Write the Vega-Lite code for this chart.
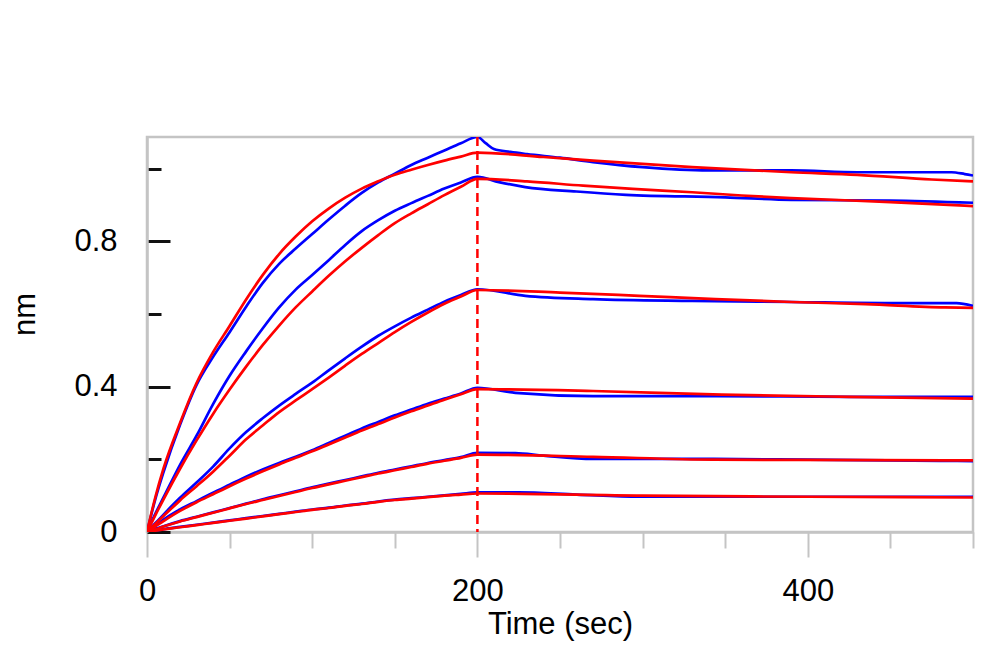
{
  "$schema": "https://vega.github.io/schema/vega-lite/v6.json",
  "width": 826,
  "height": 395,
  "autosize": {"type": "none"},
  "padding": {"left": 147, "top": 137, "right": 27, "bottom": 138},
  "background": "white",
  "config": {
    "view": {"stroke": "#c4c4c4", "strokeWidth": 2.5},
    "font": "Liberation Sans"
  },
  "datasets": {
    "measured": [
      {"c":1,"t":0,"v":0},{"c":1,"t":5,"v":0.09},{"c":1,"t":10,"v":0.165},{"c":1,"t":20,"v":0.295},{"c":1,"t":30,"v":0.405},{"c":1,"t":40,"v":0.482},{"c":1,"t":50,"v":0.55},{"c":1,"t":60,"v":0.62},{"c":1,"t":70,"v":0.685},{"c":1,"t":80,"v":0.738},{"c":1,"t":90,"v":0.78},{"c":1,"t":100,"v":0.82},{"c":1,"t":110,"v":0.86},{"c":1,"t":120,"v":0.898},{"c":1,"t":130,"v":0.933},{"c":1,"t":140,"v":0.962},{"c":1,"t":150,"v":0.986},{"c":1,"t":160,"v":1.01},{"c":1,"t":170,"v":1.03},{"c":1,"t":180,"v":1.05},{"c":1,"t":190,"v":1.07},{"c":1,"t":200,"v":1.087},{"c":1,"t":205,"v":1.07},{"c":1,"t":210,"v":1.054},{"c":1,"t":220,"v":1.046},{"c":1,"t":230,"v":1.04},{"c":1,"t":250,"v":1.03},{"c":1,"t":270,"v":1.018},{"c":1,"t":300,"v":1.004},{"c":1,"t":340,"v":0.995},{"c":1,"t":390,"v":0.995},{"c":1,"t":430,"v":0.99},{"c":1,"t":487,"v":0.99},{"c":1,"t":495,"v":0.985},{"c":1,"t":500,"v":0.981},
      {"c":2,"t":0,"v":0},{"c":2,"t":5,"v":0.05},{"c":2,"t":10,"v":0.095},{"c":2,"t":20,"v":0.185},{"c":2,"t":30,"v":0.265},{"c":2,"t":40,"v":0.352},{"c":2,"t":50,"v":0.43},{"c":2,"t":60,"v":0.497},{"c":2,"t":70,"v":0.56},{"c":2,"t":80,"v":0.618},{"c":2,"t":90,"v":0.667},{"c":2,"t":100,"v":0.707},{"c":2,"t":110,"v":0.748},{"c":2,"t":120,"v":0.79},{"c":2,"t":130,"v":0.828},{"c":2,"t":140,"v":0.858},{"c":2,"t":150,"v":0.884},{"c":2,"t":160,"v":0.905},{"c":2,"t":170,"v":0.925},{"c":2,"t":180,"v":0.945},{"c":2,"t":190,"v":0.962},{"c":2,"t":200,"v":0.977},{"c":2,"t":213,"v":0.963},{"c":2,"t":229,"v":0.949},{"c":2,"t":260,"v":0.937},{"c":2,"t":290,"v":0.928},{"c":2,"t":350,"v":0.921},{"c":2,"t":390,"v":0.914},{"c":2,"t":450,"v":0.912},{"c":2,"t":500,"v":0.906},
      {"c":3,"t":0,"v":0},{"c":3,"t":5,"v":0.024},{"c":3,"t":10,"v":0.048},{"c":3,"t":20,"v":0.094},{"c":3,"t":30,"v":0.136},{"c":3,"t":40,"v":0.18},{"c":3,"t":50,"v":0.23},{"c":3,"t":60,"v":0.275},{"c":3,"t":70,"v":0.313},{"c":3,"t":80,"v":0.348},{"c":3,"t":90,"v":0.38},{"c":3,"t":100,"v":0.411},{"c":3,"t":110,"v":0.445},{"c":3,"t":120,"v":0.478},{"c":3,"t":130,"v":0.51},{"c":3,"t":140,"v":0.54},{"c":3,"t":150,"v":0.566},{"c":3,"t":160,"v":0.59},{"c":3,"t":170,"v":0.612},{"c":3,"t":180,"v":0.634},{"c":3,"t":190,"v":0.652},{"c":3,"t":200,"v":0.668},{"c":3,"t":229,"v":0.65},{"c":3,"t":270,"v":0.641},{"c":3,"t":330,"v":0.636},{"c":3,"t":390,"v":0.633},{"c":3,"t":450,"v":0.63},{"c":3,"t":490,"v":0.63},{"c":3,"t":500,"v":0.622},
      {"c":4,"t":0,"v":0},{"c":4,"t":5,"v":0.017},{"c":4,"t":10,"v":0.034},{"c":4,"t":20,"v":0.062},{"c":4,"t":30,"v":0.085},{"c":4,"t":40,"v":0.108},{"c":4,"t":50,"v":0.13},{"c":4,"t":60,"v":0.152},{"c":4,"t":70,"v":0.172},{"c":4,"t":80,"v":0.19},{"c":4,"t":90,"v":0.207},{"c":4,"t":100,"v":0.225},{"c":4,"t":110,"v":0.245},{"c":4,"t":120,"v":0.265},{"c":4,"t":130,"v":0.285},{"c":4,"t":140,"v":0.303},{"c":4,"t":150,"v":0.321},{"c":4,"t":160,"v":0.337},{"c":4,"t":170,"v":0.353},{"c":4,"t":180,"v":0.367},{"c":4,"t":190,"v":0.381},{"c":4,"t":200,"v":0.397},{"c":4,"t":223,"v":0.383},{"c":4,"t":270,"v":0.374},{"c":4,"t":345,"v":0.374},{"c":4,"t":425,"v":0.372},{"c":4,"t":500,"v":0.372},
      {"c":5,"t":0,"v":0},{"c":5,"t":5,"v":0.008},{"c":5,"t":10,"v":0.016},{"c":5,"t":20,"v":0.03},{"c":5,"t":30,"v":0.042},{"c":5,"t":40,"v":0.054},{"c":5,"t":50,"v":0.066},{"c":5,"t":60,"v":0.078},{"c":5,"t":70,"v":0.09},{"c":5,"t":80,"v":0.101},{"c":5,"t":90,"v":0.112},{"c":5,"t":100,"v":0.123},{"c":5,"t":110,"v":0.133},{"c":5,"t":120,"v":0.143},{"c":5,"t":130,"v":0.153},{"c":5,"t":140,"v":0.163},{"c":5,"t":150,"v":0.172},{"c":5,"t":160,"v":0.181},{"c":5,"t":170,"v":0.19},{"c":5,"t":180,"v":0.198},{"c":5,"t":190,"v":0.206},{"c":5,"t":200,"v":0.218},{"c":5,"t":223,"v":0.217},{"c":5,"t":240,"v":0.21},{"c":5,"t":270,"v":0.201},{"c":5,"t":343,"v":0.201},{"c":5,"t":400,"v":0.199},{"c":5,"t":480,"v":0.196},{"c":5,"t":500,"v":0.195},
      {"c":6,"t":0,"v":0},{"c":6,"t":5,"v":0.004},{"c":6,"t":10,"v":0.008},{"c":6,"t":20,"v":0.014},{"c":6,"t":30,"v":0.02},{"c":6,"t":40,"v":0.026},{"c":6,"t":50,"v":0.032},{"c":6,"t":60,"v":0.038},{"c":6,"t":70,"v":0.044},{"c":6,"t":80,"v":0.05},{"c":6,"t":90,"v":0.056},{"c":6,"t":100,"v":0.062},{"c":6,"t":110,"v":0.067},{"c":6,"t":120,"v":0.073},{"c":6,"t":130,"v":0.078},{"c":6,"t":140,"v":0.084},{"c":6,"t":150,"v":0.089},{"c":6,"t":160,"v":0.093},{"c":6,"t":170,"v":0.097},{"c":6,"t":180,"v":0.101},{"c":6,"t":190,"v":0.105},{"c":6,"t":200,"v":0.109},{"c":6,"t":225,"v":0.109},{"c":6,"t":260,"v":0.103},{"c":6,"t":298,"v":0.097},{"c":6,"t":500,"v":0.097}
    ],
    "fit": [
      {"c":1,"t":0,"v":0},{"c":1,"t":5,"v":0.095},{"c":1,"t":10,"v":0.175},{"c":1,"t":20,"v":0.3},{"c":1,"t":30,"v":0.41},{"c":1,"t":40,"v":0.495},{"c":1,"t":50,"v":0.567},{"c":1,"t":60,"v":0.64},{"c":1,"t":70,"v":0.707},{"c":1,"t":80,"v":0.765},{"c":1,"t":90,"v":0.813},{"c":1,"t":100,"v":0.855},{"c":1,"t":110,"v":0.89},{"c":1,"t":120,"v":0.92},{"c":1,"t":130,"v":0.945},{"c":1,"t":140,"v":0.965},{"c":1,"t":150,"v":0.983},{"c":1,"t":160,"v":0.997},{"c":1,"t":170,"v":1.01},{"c":1,"t":180,"v":1.022},{"c":1,"t":190,"v":1.033},{"c":1,"t":200,"v":1.044},{"c":1,"t":240,"v":1.032},{"c":1,"t":270,"v":1.022},{"c":1,"t":330,"v":1.004},{"c":1,"t":390,"v":0.99},{"c":1,"t":430,"v":0.983},{"c":1,"t":475,"v":0.97},{"c":1,"t":500,"v":0.965},
      {"c":2,"t":0,"v":0},{"c":2,"t":5,"v":0.046},{"c":2,"t":10,"v":0.09},{"c":2,"t":20,"v":0.174},{"c":2,"t":30,"v":0.252},{"c":2,"t":40,"v":0.325},{"c":2,"t":50,"v":0.392},{"c":2,"t":60,"v":0.455},{"c":2,"t":70,"v":0.514},{"c":2,"t":80,"v":0.568},{"c":2,"t":90,"v":0.618},{"c":2,"t":100,"v":0.662},{"c":2,"t":110,"v":0.705},{"c":2,"t":120,"v":0.745},{"c":2,"t":130,"v":0.782},{"c":2,"t":140,"v":0.817},{"c":2,"t":150,"v":0.85},{"c":2,"t":160,"v":0.877},{"c":2,"t":170,"v":0.902},{"c":2,"t":180,"v":0.927},{"c":2,"t":190,"v":0.95},{"c":2,"t":200,"v":0.972},{"c":2,"t":230,"v":0.965},{"c":2,"t":264,"v":0.953},{"c":2,"t":294,"v":0.944},{"c":2,"t":330,"v":0.935},{"c":2,"t":360,"v":0.926},{"c":2,"t":390,"v":0.919},{"c":2,"t":450,"v":0.908},{"c":2,"t":500,"v":0.897},
      {"c":3,"t":0,"v":0},{"c":3,"t":5,"v":0.022},{"c":3,"t":10,"v":0.044},{"c":3,"t":20,"v":0.087},{"c":3,"t":30,"v":0.126},{"c":3,"t":40,"v":0.166},{"c":3,"t":50,"v":0.21},{"c":3,"t":60,"v":0.255},{"c":3,"t":70,"v":0.293},{"c":3,"t":80,"v":0.33},{"c":3,"t":90,"v":0.362},{"c":3,"t":100,"v":0.393},{"c":3,"t":110,"v":0.425},{"c":3,"t":120,"v":0.458},{"c":3,"t":130,"v":0.49},{"c":3,"t":140,"v":0.52},{"c":3,"t":150,"v":0.55},{"c":3,"t":160,"v":0.578},{"c":3,"t":170,"v":0.604},{"c":3,"t":180,"v":0.628},{"c":3,"t":190,"v":0.648},{"c":3,"t":200,"v":0.666},{"c":3,"t":250,"v":0.659},{"c":3,"t":298,"v":0.65},{"c":3,"t":344,"v":0.641},{"c":3,"t":390,"v":0.633},{"c":3,"t":435,"v":0.627},{"c":3,"t":483,"v":0.618},{"c":3,"t":500,"v":0.617},
      {"c":4,"t":0,"v":0},{"c":4,"t":5,"v":0.015},{"c":4,"t":10,"v":0.03},{"c":4,"t":20,"v":0.058},{"c":4,"t":30,"v":0.082},{"c":4,"t":40,"v":0.104},{"c":4,"t":50,"v":0.126},{"c":4,"t":60,"v":0.147},{"c":4,"t":70,"v":0.167},{"c":4,"t":80,"v":0.186},{"c":4,"t":90,"v":0.204},{"c":4,"t":100,"v":0.222},{"c":4,"t":110,"v":0.241},{"c":4,"t":120,"v":0.26},{"c":4,"t":130,"v":0.279},{"c":4,"t":140,"v":0.297},{"c":4,"t":150,"v":0.315},{"c":4,"t":160,"v":0.332},{"c":4,"t":170,"v":0.348},{"c":4,"t":180,"v":0.364},{"c":4,"t":190,"v":0.379},{"c":4,"t":200,"v":0.393},{"c":4,"t":270,"v":0.388},{"c":4,"t":348,"v":0.378},{"c":4,"t":425,"v":0.372},{"c":4,"t":500,"v":0.367},
      {"c":5,"t":0,"v":0},{"c":5,"t":5,"v":0.007},{"c":5,"t":10,"v":0.015},{"c":5,"t":20,"v":0.029},{"c":5,"t":30,"v":0.041},{"c":5,"t":40,"v":0.053},{"c":5,"t":50,"v":0.065},{"c":5,"t":60,"v":0.077},{"c":5,"t":70,"v":0.088},{"c":5,"t":80,"v":0.099},{"c":5,"t":90,"v":0.11},{"c":5,"t":100,"v":0.121},{"c":5,"t":110,"v":0.131},{"c":5,"t":120,"v":0.141},{"c":5,"t":130,"v":0.151},{"c":5,"t":140,"v":0.161},{"c":5,"t":150,"v":0.17},{"c":5,"t":160,"v":0.179},{"c":5,"t":170,"v":0.188},{"c":5,"t":180,"v":0.196},{"c":5,"t":190,"v":0.204},{"c":5,"t":200,"v":0.213},{"c":5,"t":270,"v":0.207},{"c":5,"t":343,"v":0.199},{"c":5,"t":440,"v":0.198},{"c":5,"t":500,"v":0.197},
      {"c":6,"t":0,"v":0},{"c":6,"t":5,"v":0.004},{"c":6,"t":10,"v":0.007},{"c":6,"t":20,"v":0.013},{"c":6,"t":30,"v":0.019},{"c":6,"t":40,"v":0.025},{"c":6,"t":50,"v":0.031},{"c":6,"t":60,"v":0.037},{"c":6,"t":70,"v":0.043},{"c":6,"t":80,"v":0.049},{"c":6,"t":90,"v":0.055},{"c":6,"t":100,"v":0.061},{"c":6,"t":110,"v":0.066},{"c":6,"t":120,"v":0.072},{"c":6,"t":130,"v":0.077},{"c":6,"t":140,"v":0.083},{"c":6,"t":150,"v":0.088},{"c":6,"t":160,"v":0.092},{"c":6,"t":170,"v":0.096},{"c":6,"t":180,"v":0.1},{"c":6,"t":190,"v":0.103},{"c":6,"t":200,"v":0.106},{"c":6,"t":300,"v":0.1},{"c":6,"t":400,"v":0.097},{"c":6,"t":500,"v":0.095}
    ],
    "phase": [{"t": 200}]
  },
  "encoding": {
    "x": {
      "field": "t",
      "type": "quantitative",
      "scale": {"domain": [0, 500], "nice": false, "zero": false},
      "axis": {
        "values": [0, 50, 100, 150, 200, 250, 300, 350, 400, 450, 500],
        "labelExpr": "datum.value === 0 || datum.value === 200 || datum.value === 400 ? datum.label : ''",
        "title": "Time (sec)",
        "titleFontSize": 31,
        "titleFontWeight": "normal",
        "titleColor": "#000000",
        "titleY": 77,
        "titleBaseline": "top",
        "labelFontSize": 31,
        "labelColor": "#000000",
        "labelPadding": 19,
        "labelFlush": false,
        "labelOverlap": false,
        "domainColor": "#c4c4c4",
        "domainWidth": 2.5,
        "tickColor": "#c4c4c4",
        "tickWidth": 2,
        "tickSize": {"condition": {"test": "datum.value === 0 || datum.value === 200 || datum.value === 400", "value": 25}, "value": 16},
        "grid": false
      }
    }
  },
  "layer": [
    {
      "data": {"name": "measured"},
      "mark": {"type": "line", "color": "#0000ff", "strokeWidth": 2.7, "clip": true, "interpolate": "monotone"},
      "encoding": {
        "y": {
          "field": "v",
          "type": "quantitative",
          "scale": {"domain": [0, 1.087], "nice": false},
          "axis": {
            "values": [0, 0.2, 0.4, 0.6, 0.8, 1.0],
            "format": "~g",
            "labelExpr": "datum.value === 0 || datum.value === 0.4 || datum.value === 0.8 ? datum.label : ''",
            "title": "nm",
            "titleFontSize": 31,
            "titleFontWeight": "normal",
            "titleColor": "#000000",
            "titleX": -106,
            "titleY": 177,
            "labelFontSize": 31,
            "labelColor": "#000000",
            "labelPadding": 53,
            "labelFlush": false,
            "labelOverlap": false,
            "domainColor": "#c4c4c4",
            "domainWidth": 2.5,
            "tickColor": "#111111",
            "tickWidth": 3,
            "tickSize": {"condition": {"test": "datum.value === 0 || datum.value === 0.4 || datum.value === 0.8", "value": -23}, "value": -14},
            "grid": false
          }
        },
        "detail": {"field": "c", "type": "nominal"}
      }
    },
    {
      "data": {"name": "fit"},
      "mark": {"type": "line", "color": "#ff0000", "strokeWidth": 2.7, "clip": true, "interpolate": "monotone"},
      "encoding": {
        "y": {"field": "v", "type": "quantitative"},
        "detail": {"field": "c", "type": "nominal"}
      }
    },
    {
      "data": {"name": "phase"},
      "mark": {"type": "rule", "color": "#ff0000", "strokeWidth": 2.5, "strokeDash": [9, 5]},
      "encoding": {}
    }
  ]
}
